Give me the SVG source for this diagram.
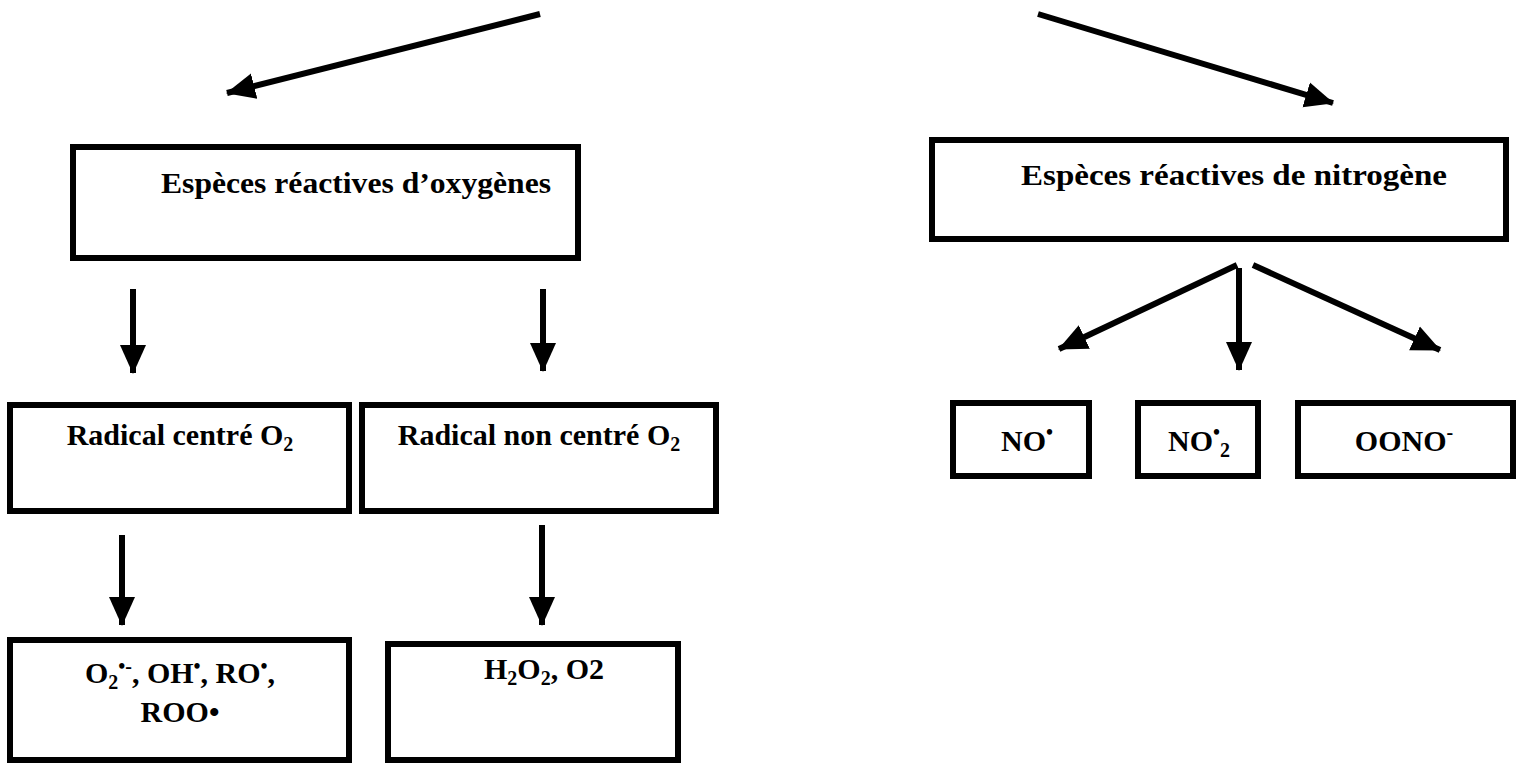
<svg xmlns="http://www.w3.org/2000/svg" width="1529" height="767" viewBox="0 0 1529 767">
<defs>
<marker id="ah" markerUnits="userSpaceOnUse" markerWidth="30" markerHeight="30" viewBox="0 0 30 30" refX="28" refY="15" orient="auto">
<path d="M0,2 L29,15 L0,28 Z" fill="#000"/>
</marker>
</defs>
<style>
.box{fill:#fff;stroke:#000;stroke-width:6}
.t{font-family:"Liberation Serif","Times New Roman",serif;font-weight:bold;font-size:30px;fill:#000}
.c{stroke:#000;stroke-width:6;fill:none;marker-end:url(#ah)}
.sub{font-size:20px}
</style>
<g id="connectors">
<line class="c" x1="540" y1="14" x2="227" y2="93"/>
<line class="c" x1="1038" y1="14" x2="1333" y2="103"/>
<line class="c" x1="133" y1="289" x2="133" y2="373"/>
<line class="c" x1="543" y1="289" x2="543" y2="371"/>
<line class="c" x1="122" y1="535" x2="122" y2="625"/>
<line class="c" x1="542" y1="525" x2="542" y2="625"/>
<line class="c" x1="1237" y1="265" x2="1059" y2="349"/>
<line class="c" x1="1239" y1="268" x2="1239" y2="370"/>
<line class="c" x1="1253" y1="265" x2="1440" y2="350"/>
</g>
<g id="ros">
<rect class="box" x="73" y="147" width="505" height="111"/>
<text class="t" x="161" y="193" textLength="390" lengthAdjust="spacingAndGlyphs">Espèces réactives d’oxygènes</text>
</g>
<g id="rns">
<rect class="box" x="932" y="140" width="574" height="99"/>
<text class="t" x="1021" y="185" textLength="426" lengthAdjust="spacingAndGlyphs">Espèces réactives de nitrogène</text>
</g>
<g id="radical-centre">
<rect class="box" x="10" y="405" width="339" height="106"/>
<text class="t" x="180" y="445" text-anchor="middle">Radical centré O<tspan class="sub" dy="6">2</tspan></text>
</g>
<g id="radical-non-centre">
<rect class="box" x="362" y="405" width="354" height="106"/>
<text class="t" x="539" y="445" text-anchor="middle">Radical non centré O<tspan class="sub" dy="6">2</tspan></text>
</g>
<g id="o2-radicals">
<rect class="box" x="10" y="640" width="339" height="120"/>
<text class="t" x="180" y="683" text-anchor="middle">O<tspan class="sub" dy="6">2</tspan><tspan class="sub" dy="-16">•-</tspan><tspan dy="10">, OH</tspan><tspan class="sub" dy="-10">•</tspan><tspan dy="10">, RO</tspan><tspan class="sub" dy="-10">•</tspan><tspan dy="10">,</tspan></text>
<text class="t" x="180" y="722" text-anchor="middle">ROO•</text>
</g>
<g id="h2o2">
<rect class="box" x="388" y="644" width="290" height="116"/>
<text class="t" x="544" y="679" text-anchor="middle">H<tspan class="sub" dy="6">2</tspan><tspan dy="-6">O</tspan><tspan class="sub" dy="6">2</tspan><tspan dy="-6">, O2</tspan></text>
</g>
<g id="no">
<rect class="box" x="953" y="403" width="136" height="73"/>
<text class="t" x="1027" y="451" text-anchor="middle">NO<tspan class="sub" dy="-12">•</tspan></text>
</g>
<g id="no2">
<rect class="box" x="1138" y="403" width="120" height="73"/>
<text class="t" x="1199" y="451" text-anchor="middle">NO<tspan class="sub" dy="-12">•</tspan><tspan class="sub" dy="18">2</tspan></text>
</g>
<g id="oono">
<rect class="box" x="1298" y="403" width="215" height="73"/>
<text class="t" x="1404" y="451" text-anchor="middle" font-size="32">OONO<tspan class="sub" dy="-12">-</tspan></text>
</g>
</svg>
